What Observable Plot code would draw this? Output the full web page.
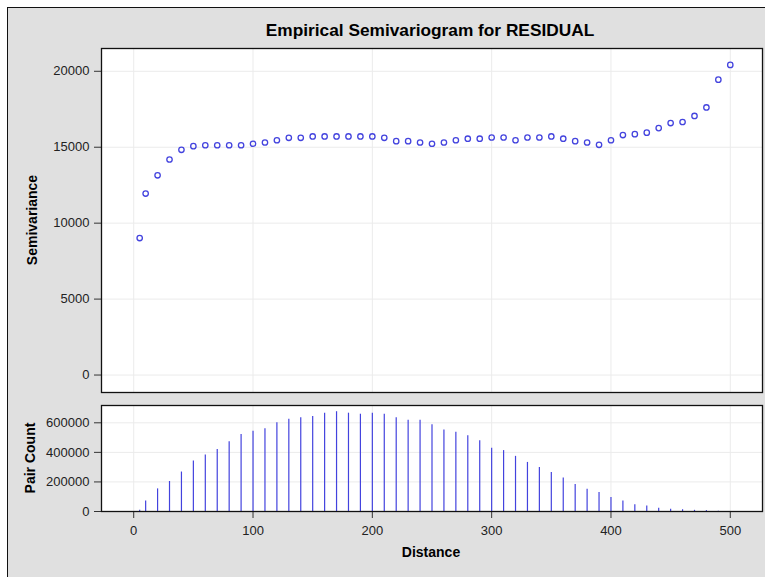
<!DOCTYPE html>
<html>
<head>
<meta charset="utf-8">
<script src="https://cdn.jsdelivr.net/npm/d3@7"></script>
<script src="https://cdn.jsdelivr.net/npm/@observablehq/plot@0.6"></script>
<style>
  html, body { margin: 0; padding: 0; background: #fff; }
  #wrap { position: relative; width: 765px; height: 577px; overflow: hidden; font-family: "Liberation Sans", Arial, sans-serif; }
  #bg { position: absolute; left: 7px; top: 7px; width: 780px; height: 600px; background: #e0e0e0; border: 1px solid #111; }
  .plot { position: absolute; left: 0; }
  #wrap svg text { font-size: 13px !important; font-family: "Liberation Sans", Arial, sans-serif !important; }
  .lbl { position: absolute; font-weight: bold; color: #000; white-space: nowrap; text-align: center; }
</style>
</head>
<body>
<div id="wrap">
  <div id="bg"></div>
</div>
<script>
const distances = [5,10,20,30,40,50,60,70,80,90,100,110,120,130,140,150,160,170,180,190,200,
  210,220,230,240,250,260,270,280,290,300,310,320,330,340,350,360,370,380,390,400,
  410,420,430,440,450,460,470,480,490,500];
const semivariance = [9020,11950,13150,14190,14830,15070,15130,15130,15130,15130,15230,
  15310,15460,15620,15620,15710,15710,15710,15710,15710,15710,
  15620,15400,15400,15310,15230,15310,15460,15560,15560,15640,
  15640,15460,15640,15640,15710,15560,15400,15310,15160,15460,
  15800,15860,15960,16260,16590,16660,17060,17620,19450,20420];
const pairCount = [8000,71000,153000,203000,267000,341000,382000,420000,471000,520000,543000,
  559000,600000,624000,634000,643000,665000,675000,665000,658000,665000,
  658000,634000,618000,618000,586000,552000,536000,512000,478000,427000,
  412000,373000,332000,298000,264000,226000,182000,151000,128000,94000,
  71000,46000,37000,22000,15000,12000,8000,6000,2000,800];
const xTicks = [0,100,200,300,400,500];
const semiTicks = [0,5000,10000,15000,20000];
const countTicks = [0,200000,400000,600000];
const titleText = "Empirical Semivariogram for RESIDUAL";
const yLabelTop = "Semivariance";
const yLabelBottom = "Pair Count";
const xLabel = "Distance";

const data = distances.map((d, i) => ({distance: d, semivariance: semivariance[i], count: pairCount[i]}));

const blue = "#4343de";
const gridColor = "#ebebeb";
const fmt = d3.format("d");
const xDomain = [-27, 527];
const tickFont = 13;
const commonStyle = {background: "transparent", fontFamily: "'Liberation Sans', Arial, sans-serif", fontSize: "13px", color: "#222", overflow: "visible"};

const topChart = Plot.plot({
  width: 765, height: 400,
  marginLeft: 101, marginRight: 3, marginTop: 48, marginBottom: 8,
  style: commonStyle,
  x: {domain: xDomain, axis: null},
  y: {domain: [-1150, 21500], axis: null},
  marks: [
    Plot.frame({fill: "white", stroke: null}),
    Plot.gridX(xTicks, {stroke: gridColor, strokeOpacity: 1}),
    Plot.gridY(semiTicks, {stroke: gridColor, strokeOpacity: 1}),
    Plot.axisY(semiTicks, {tickSize: 7, tickPadding: 5, tickFormat: fmt, label: null, stroke: "#333", fill: "#222", fontSize: tickFont}),
    Plot.dot(data, {x: "distance", y: "semivariance", r: 2.7, stroke: blue, strokeWidth: 1.3, fill: "none"}),
    Plot.frame({stroke: "#111", strokeWidth: 1.3})
  ]
});
topChart.classList.add("plot");
topChart.style.top = "0px";

const bottomChart = Plot.plot({
  width: 765, height: 177,
  marginLeft: 101, marginRight: 3, marginTop: 5, marginBottom: 66,
  style: commonStyle,
  x: {domain: xDomain, axis: null},
  y: {domain: [0, 717000], axis: null},
  marks: [
    Plot.frame({fill: "white", stroke: null}),
    Plot.gridX(xTicks, {stroke: gridColor, strokeOpacity: 1}),
    Plot.gridY(countTicks, {stroke: gridColor, strokeOpacity: 1}),
    Plot.axisY(countTicks, {tickSize: 7, tickPadding: 5, tickFormat: fmt, label: null, stroke: "#333", fill: "#222", fontSize: tickFont}),
    Plot.axisX(xTicks, {tickSize: 7, tickPadding: 7, tickFormat: fmt, label: null, stroke: "#333", fill: "#222", fontSize: tickFont}),
    Plot.ruleX(data, {x: "distance", y1: 0, y2: "count", stroke: blue, strokeWidth: 1.2}),
    Plot.frame({stroke: "#111", strokeWidth: 1.3})
  ]
});
bottomChart.classList.add("plot");
bottomChart.style.top = "400px";

const wrap = document.getElementById("wrap");
wrap.appendChild(topChart);
wrap.appendChild(bottomChart);

function addLabel(text, cx, cy, size, rotate) {
  const el = document.createElement("div");
  el.className = "lbl";
  el.textContent = text;
  el.style.fontSize = size + "px";
  el.style.lineHeight = "20px";
  el.style.width = "400px";
  el.style.left = (cx - 200) + "px";
  el.style.top = (cy - 10) + "px";
  if (rotate) el.style.transform = "rotate(-90deg)";
  wrap.appendChild(el);
}
addLabel(titleText, 430, 29.5, 17.3, false);
addLabel(yLabelTop, 32, 220, 14, true);
addLabel(yLabelBottom, 30, 458, 14, true);
addLabel(xLabel, 431, 552, 14, false);
</script>
</body>
</html>
